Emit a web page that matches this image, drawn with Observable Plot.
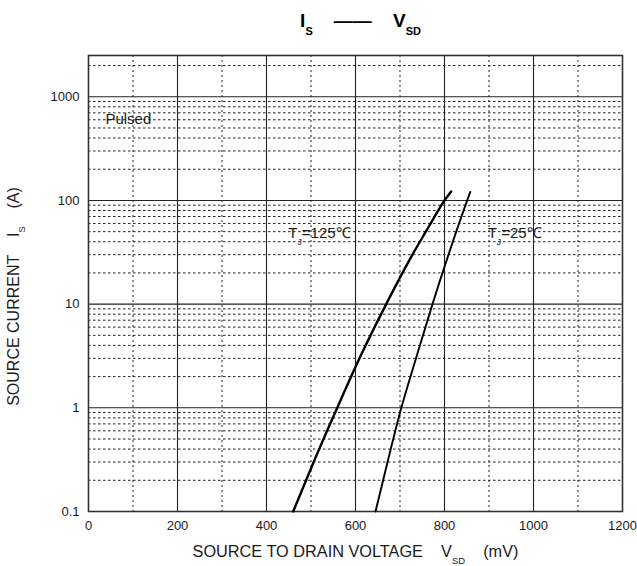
<!DOCTYPE html>
<html><head><meta charset="utf-8">
<script src="https://cdn.jsdelivr.net/npm/d3@7"></script>
<script src="https://cdn.jsdelivr.net/npm/@observablehq/plot@0.6"></script>
<style>
  html, body { margin: 0; padding: 0; background: #fff; }
</style>
</head><body><div id="chart"></div>
<script>
// ---- data ----
const vsd125 = [460, 506, 559, 609, 669, 728, 758, 778, 800, 815];
const is125  = [0.1, 0.3, 1, 3, 10, 30, 50, 70, 100, 122];
const vsd25  = [645, 672, 703, 736, 773, 809, 851, 858];
const is25   = [0.1, 0.3, 1, 3, 10, 30, 100, 121];

const xTicks = [0, 200, 400, 600, 800, 1000, 1200];
const xMajorGrid = [200, 400, 600, 800, 1000];
const xMinorGrid = [100, 300, 500, 700, 900, 1100];
const yTicks = [0.1, 1, 10, 100, 1000];
const yMajorGrid = [1, 10, 100, 1000];
const yMinorGrid = [0.2,0.3,0.4,0.5,0.6,0.7,0.8,0.9, 2,3,4,5,6,7,8,9, 20,30,40,50,60,70,80,90, 200,300,400,500,600,700,800,900, 2000];

const annoV = [38, 449, 897];
const annoI = [608, 48, 48];
const annoText = ["Pulsed", "T_{J}=125\u2103", "T_{J}=25\u2103"];

const sp = "\u00A0\u00A0\u00A0\u00A0";
const titleText = "I_{S}" + sp + "\u2014\u2014" + sp + "V_{SD}";
const xLabel = "SOURCE TO DRAIN VOLTAGE" + sp + "V_{SD}" + sp + "(mV)";
const yLabel = "SOURCE CURRENT" + sp + "I_{S}" + sp + "(A)";

// ---- tables built from the arrays ----
const curve125 = vsd125.map((v, i) => ({v, i: is125[i]}));
const curve25 = vsd25.map((v, i) => ({v, i: is25[i]}));
const annos = annoV.map((v, k) => ({v, i: annoI[k], t: annoText[k]}));

const ink = "#1a1a1a";
const chart = Plot.plot({
  width: 637,
  height: 566,
  marginLeft: 88,
  marginRight: 15,
  marginTop: 55,
  marginBottom: 55,
  style: {fontFamily: "'Liberation Sans', Arial, sans-serif", fontSize: "13px", color: ink, background: "#fff"},
  x: {domain: [0, 1200], ticks: xTicks, tickSize: 0, tickPadding: 9, label: null, tickFormat: d3.format("d")},
  y: {type: "log", domain: [0.1, 2500], ticks: yTicks, tickSize: 0, tickPadding: 9, label: null,
      tickFormat: d => d < 1 ? String(d) : d3.format("d")(d)},
  marks: [
    Plot.ruleY(yMinorGrid, {stroke: "#222", strokeWidth: 1, strokeDasharray: "2.5,2.5"}),
    Plot.ruleX(xMinorGrid, {stroke: "#222", strokeWidth: 1, strokeDasharray: "2,3"}),
    Plot.ruleY(yMajorGrid, {stroke: "#222", strokeWidth: 1.1}),
    Plot.ruleX(xMajorGrid, {stroke: "#222", strokeWidth: 1.1}),
    Plot.frame({stroke: "#333", strokeWidth: 1.6}),
    Plot.line(curve125, {x: "v", y: "i", curve: "monotone-x", stroke: "#000", strokeWidth: 2.4}),
    Plot.line(curve25, {x: "v", y: "i", curve: "monotone-x", stroke: "#000", strokeWidth: 1.9}),
    Plot.text(annos, {x: "v", y: "i", text: "t", textAnchor: "start", fontSize: 15, fill: ink}),
    Plot.text([titleText], {text: d => d, frameAnchor: "top", textAnchor: "middle", lineAnchor: "middle",
      dx: 5, dy: -35, fontSize: 19, fontWeight: "bold", fill: "#000"}),
    Plot.text([xLabel], {text: d => d, frameAnchor: "bottom", textAnchor: "middle", lineAnchor: "middle",
      dx: 0, dy: 40, fontSize: 16.3, fill: ink}),
    Plot.text([yLabel], {text: d => d, frameAnchor: "left", textAnchor: "middle", lineAnchor: "middle",
      rotate: -90, dx: -75, dy: 13, fontSize: 16, fill: ink})
  ]
});
document.getElementById("chart").appendChild(chart);

// subscripts: turn "_{..}" into lowered, smaller tspans
d3.select(chart).selectAll("text").each(function () {
  const s = this.textContent;
  if (!s.includes("_{")) return;
  const fs = parseFloat(getComputedStyle(this).fontSize) || 13;
  const parts = s.split(/(_\{[^}]*\})/);
  this.textContent = "";
  let shifted = false;
  for (const p of parts) {
    if (!p) continue;
    const t = document.createElementNS("http://www.w3.org/2000/svg", "tspan");
    if (p.startsWith("_{")) {
      t.textContent = p.slice(2, -1);
      t.setAttribute("font-size", (fs * 0.58).toFixed(1));
      t.setAttribute("dy", (fs * 0.42).toFixed(1));
      shifted = true;
    } else {
      t.textContent = p;
      if (shifted) { t.setAttribute("dy", (-fs * 0.42).toFixed(1)); shifted = false; }
    }
    this.appendChild(t);
  }
});
</script>
</body></html>
